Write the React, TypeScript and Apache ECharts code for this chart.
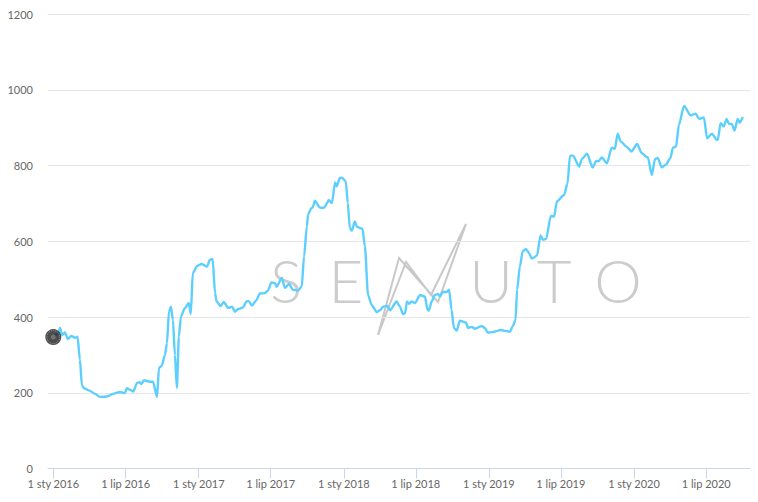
import React, { useEffect, useRef } from "react";
import * as echarts from "echarts";

const DAY = 86400000;
const START = Date.UTC(2016, 0, 1);

const tickDates = [
  Date.UTC(2016, 0, 1), Date.UTC(2016, 6, 1), Date.UTC(2017, 0, 1), Date.UTC(2017, 6, 1), Date.UTC(2018, 0, 1),
  Date.UTC(2018, 6, 1), Date.UTC(2019, 0, 1), Date.UTC(2019, 6, 1), Date.UTC(2020, 0, 1), Date.UTC(2020, 6, 1),
];
const tickLabels = [
  "1 sty 2016", "1 lip 2016", "1 sty 2017", "1 lip 2017", "1 sty 2018",
  "1 lip 2018", "1 sty 2019", "1 lip 2019", "1 sty 2020", "1 lip 2020",
];

// Days since 1 Jan 2016 and the value read at that day.
const days = [
  0, 12, 17, 22, 29, 37, 45, 55, 61, 67, 72, 77, 92, 105, 117, 135, 150, 168, 180, 185,
  193, 201, 211, 216, 221, 228, 243, 251, 261, 266, 273, 281, 286, 291, 296, 301, 306, 311, 316, 321,
  331, 341, 346, 351, 362, 373, 387, 394, 401, 407, 411, 421, 429, 440, 450, 457, 465, 477, 487, 492,
  500, 510, 520, 533, 540, 549, 558, 562, 575, 583, 593, 603, 616, 625, 631, 638, 641, 648, 653, 658,
  671, 681, 689, 693, 701, 709, 713, 721, 726, 736, 741, 746, 751, 759, 764, 778, 784, 792, 801, 814,
  822, 830, 841, 847, 864, 872, 880, 885, 890, 895, 902, 910, 923, 935, 942, 945, 952, 960, 968, 973,
  980, 990, 996, 1002, 1008, 1015, 1023, 1039, 1043, 1053, 1061, 1078, 1086, 1093, 1106, 1119, 1124, 1134, 1149, 1156,
  1163, 1167, 1174, 1181, 1189, 1197, 1204, 1217, 1226, 1232, 1240, 1252, 1260, 1267, 1285, 1294, 1300, 1308, 1323, 1330,
  1343, 1357, 1366, 1372, 1380, 1393, 1405, 1413, 1420, 1428, 1443, 1455, 1469, 1480, 1496, 1506, 1514, 1521, 1531, 1541,
  1553, 1559, 1567, 1574, 1587, 1604, 1616, 1625, 1637, 1645, 1657, 1669, 1672, 1679, 1687, 1694, 1700, 1707, 1714, 1722,
  1727, 1735,
];
const values = [
  347, 355, 371, 352, 359, 342, 350, 345, 348, 287, 220, 212, 205, 197, 189, 190, 197, 202, 199, 212,
  208, 203, 226, 228, 223, 233, 229, 229, 189, 266, 271, 300, 331, 414, 427, 392, 300, 213, 348, 401,
  423, 437, 408, 516, 535, 540, 533, 551, 553, 463, 441, 429, 440, 424, 427, 414, 421, 425, 442, 442,
  430, 443, 462, 463, 470, 491, 489, 480, 503, 477, 487, 472, 470, 480, 560, 639, 670, 685, 690, 707,
  689, 688, 701, 709, 701, 755, 745, 767, 768, 758, 701, 635, 628, 652, 638, 633, 586, 458, 432, 413,
  418, 427, 429, 418, 441, 427, 408, 410, 441, 435, 441, 437, 458, 454, 418, 417, 441, 458, 461, 454,
  466, 466, 472, 419, 371, 364, 390, 385, 371, 374, 369, 376, 371, 359, 360, 364, 366, 364, 361, 376,
  392, 472, 533, 573, 580, 569, 554, 562, 615, 604, 606, 667, 665, 705, 722, 753, 826, 826, 797, 817,
  831, 795, 812, 811, 821, 806, 847, 844, 884, 863, 849, 837, 857, 833, 821, 775, 817, 820, 795, 802,
  820, 847, 850, 907, 957, 932, 937, 923, 927, 872, 884, 868, 868, 912, 903, 923, 910, 910, 892, 923,
  913, 928,
];

const yMax = 1200;
const yStep = 200;
const lineData = days.map((d, i) => [START + d * DAY, values[i]]);
const firstPoint = [lineData[0]];

const wordmark: [string, number][] = [["S", 286], ["E", 346], ["U", 491], ["T", 554], ["O", 618]];

export default function App() {
  const ref = useRef<HTMLDivElement>(null);
  useEffect(() => {
    const chart = echarts.init(ref.current!, null, { renderer: "svg" });
    const labelOf = (v: number) => {
      const i = tickDates.indexOf(v);
      return i >= 0 ? tickLabels[i] : "";
    };
    chart.setOption({
      animation: false,
      backgroundColor: "#ffffff",
      textStyle: { fontFamily: "Lato" },
      grid: { left: 48, right: 8, top: 14, bottom: 33.5 },
      xAxis: {
        type: "value",
        min: START - 13.3 * DAY,
        max: START + 1753 * DAY,
        axisLine: { show: true, onZero: false, lineStyle: { color: "#ccd6eb", width: 1 } },
        axisTick: { show: true, length: 10, customValues: tickDates, lineStyle: { color: "#ccd6eb", width: 1 } },
        axisLabel: {
          customValues: tickDates,
          formatter: labelOf,
          color: "#666666",
          fontSize: 11,
          fontFamily: "Lato",
          margin: 9,
          hideOverlap: false,
          showMinLabel: true,
          showMaxLabel: true,
        },
        splitLine: { show: false },
      },
      yAxis: {
        type: "value",
        min: 0,
        max: yMax,
        interval: yStep,
        axisLine: { show: false },
        axisTick: { show: false },
        axisLabel: { color: "#666666", fontSize: 11, fontFamily: "Lato", margin: 15, formatter: (v: number) => String(v) },
        splitLine: { show: true, lineStyle: { color: "#e6e6e6", width: 1 } },
      },
      graphic: [
        ...wordmark.map(([ch, cx]) => ({
          type: "text",
          x: cx,
          y: 280,
          z: -1,
          silent: true,
          style: {
            text: ch,
            fill: "#cccccc",
            font: "300 60px Lato",
            textAlign: "center",
            textVerticalAlign: "middle",
          },
        })),
        {
          type: "polygon",
          z: -1,
          silent: true,
          shape: {
            points: [
              [378, 335], [399, 258], [438, 302], [466, 224], [431, 295], [406, 262],
            ],
          },
          style: { fill: "none", stroke: "#c8c8c8", lineWidth: 2 },
        },
      ],
      series: [
        {
          type: "line",
          data: lineData,
          showSymbol: false,
          smooth: 0.25,
          smoothMonotone: "x",
          lineStyle: { color: "#5ccfff", width: 2.4 },
          z: 3,
        },
        {
          type: "scatter",
          data: firstPoint,
          symbol: "circle",
          symbolSize: 16,
          itemStyle: { color: "#1f1f1f", borderWidth: 0 },
          z: 4,
        },
        {
          type: "scatter",
          data: firstPoint,
          symbol: "circle",
          symbolSize: 13,
          itemStyle: { color: "transparent", borderColor: "#aaaaaa", borderWidth: 1, borderType: "dotted" },
          z: 5,
        },
        {
          type: "scatter",
          data: firstPoint,
          symbol: "circle",
          symbolSize: 5,
          itemStyle: { color: "#888888", opacity: 0.7 },
          z: 5,
        },
      ],
    });
    return () => chart.dispose();
  }, []);
  return <div ref={ref} style={{ position: "fixed", left: 0, top: 0, width: 758, height: 502 }} />;
}
